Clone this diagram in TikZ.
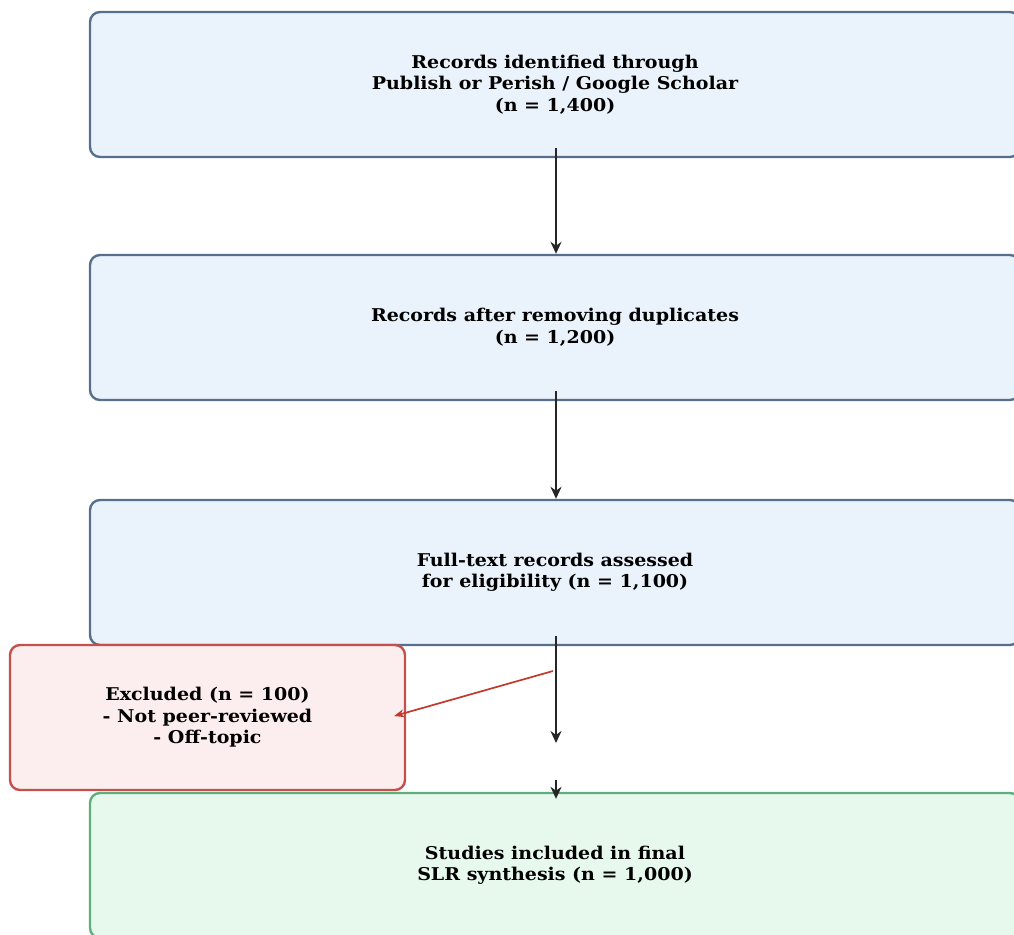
\documentclass[tikz,border=0pt]{standalone}
\usepackage{fontspec}
\setmainfont{DejaVu Serif}[FakeStretch=1.08]
\usepackage{xcolor}
\usepackage{tikz}
\usetikzlibrary{positioning,arrows.meta}

\definecolor{stepfill}{HTML}{EAF2FB}
\definecolor{stepline}{HTML}{56708C}
\definecolor{exfill}{HTML}{FCEEEE}
\definecolor{exline}{HTML}{C4504C}
\definecolor{incfill}{HTML}{E7F8EC}
\definecolor{incline}{HTML}{5DB07E}
\definecolor{arrowred}{HTML}{C0392B}

\begin{document}
\begin{tikzpicture}[x=1pt, y=1pt,
    font=\fontsize{17.6}{21.5}\selectfont\bfseries,
    box/.style={rounded corners=10pt, line width=2.4pt, align=center,
                minimum width=930pt, minimum height=145pt, inner sep=0pt},
    stepbox/.style={box, draw=stepline, fill=stepfill},
    exbox/.style={box, draw=exline, fill=exfill, minimum width=395pt},
    incbox/.style={box, draw=incline, fill=incfill},
    flow/.style={-{Stealth[length=12pt,width=11pt]}, line width=2.6pt, black!85},
    exflow/.style={-{Stealth[length=10pt,width=8pt]}, line width=1.7pt, arrowred}]
  \useasboundingbox (0,0) rectangle (1014,-934);
  \clip (0,0) rectangle (1014,-934);

  % main stream
  \node[stepbox] (ident) at (555,-84.5)  {Records identified through\\Publish or Perish / Google Scholar\\(n = 1,400)};
  \node[stepbox] (dedup) at (555,-327.5) {Records after removing duplicates\\(n = 1,200)};
  \node[stepbox] (full)  at (555,-572.5) {Full-text records assessed\\for eligibility (n = 1,100)};
  \node[incbox]  (incl)  at (555,-865.5) {Studies included in final\\SLR synthesis (n = 1,000)};
  \node[exbox]   (excl)  at (207.5,-717.5) {Excluded (n = 100)\\- Not peer-reviewed\\- Off-topic};

  \coordinate (gapA) at (556,-743);
  \coordinate (gapB) at (556,-780);
  \coordinate (split) at (553,-671);

  \draw[flow] ([xshift=1pt,yshift=10pt]ident.south) -- ([xshift=1pt]dedup.north);
  \draw[flow] ([xshift=1pt,yshift=10pt]dedup.south) -- ([xshift=1pt]full.north);
  \draw[flow] ([xshift=1pt,yshift=10pt]full.south) -- (gapA);
  \draw[flow] (gapB) -- ([xshift=1pt,yshift=-7pt]incl.north);
  \draw[exflow] (split) -- ([xshift=-12pt,yshift=1.5pt]excl.east);
\end{tikzpicture}
\end{document}
